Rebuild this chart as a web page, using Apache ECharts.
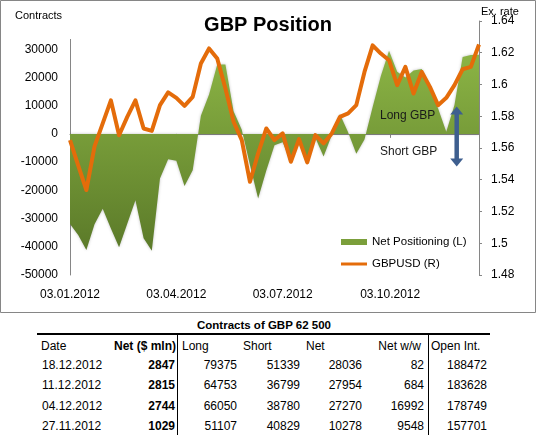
<!DOCTYPE html>
<html>
<head>
<meta charset="utf-8">
<script src="https://cdn.jsdelivr.net/npm/echarts@6/dist/echarts.min.js"></script>
<style>
body{margin:0;background:#fff;font-family:'Liberation Sans',Arial,sans-serif;}
#chart{position:absolute;left:0;top:0;width:536px;height:314px;}
.cell{position:absolute;white-space:nowrap;font-size:12px;line-height:14px;color:#000;}
.rule{position:absolute;background:#000;}
</style>
</head>
<body>
<div id="chart"></div>
<div id="tbl"></div>
<script>
// weekly COT dates (tuesdays)
var weekDates = ['2012-01-03','2012-01-10','2012-01-17','2012-01-24','2012-01-31','2012-02-07','2012-02-14','2012-02-21','2012-02-28',
  '2012-03-06','2012-03-13','2012-03-20','2012-03-27','2012-04-03','2012-04-10','2012-04-17','2012-04-24','2012-05-01','2012-05-08',
  '2012-05-15','2012-05-22','2012-05-29','2012-06-05','2012-06-12','2012-06-19','2012-06-26','2012-07-03','2012-07-10','2012-07-17',
  '2012-07-24','2012-07-31','2012-08-07','2012-08-14','2012-08-21','2012-08-28','2012-09-04','2012-09-11','2012-09-18','2012-09-25',
  '2012-10-02','2012-10-09','2012-10-16','2012-10-23','2012-10-30','2012-11-06','2012-11-13','2012-11-20','2012-11-27','2012-12-04',
  '2012-12-11','2012-12-18'];

var netPositions = [-31900, -35800, -41100, -32000, -26500, -33500, -40200, -31800, -23500, -37000, -41400,
  -15800, -9000, -9500, -18500, -12900, 6400, 14000, 24600, 24600, 8000,
  1500, -11000, -22900, -13000, -4000, -3000, -10000, -3000, -10000, -1500,
  -8000, -500, 7000, 600, -7000, -2000, 9500, 20500, 29500, 22000,
  20000, 22500, 23000, 17000, 9000, 730, 10278, 27270, 27954, 28036];

var gbpusd = [1.565, 1.549, 1.5335, 1.561, 1.5755, 1.590, 1.568, 1.5796, 1.590, 1.5723,
  1.5708, 1.587, 1.595, 1.5916, 1.5865, 1.5922, 1.6132, 1.6227, 1.6164, 1.5975,
  1.5765, 1.565, 1.5387, 1.5566, 1.5723, 1.565, 1.5692, 1.5513, 1.5656, 1.5509,
  1.5681, 1.5629, 1.5692, 1.5796, 1.5818, 1.587, 1.6079, 1.6247, 1.6195, 1.6153,
  1.5996, 1.6111, 1.5943, 1.6079, 1.5985, 1.587, 1.5916, 1.5996, 1.6096, 1.6111, 1.6252];

var xLabelDates = ['2012-01-03','2012-04-03','2012-07-03','2012-10-03'];

// table under the chart
var tblDates = ['18.12.2012','11.12.2012','04.12.2012','27.11.2012'];
var tblNetMln = [2847, 2815, 2744, 1029];
var tblLong = [79375, 64753, 66050, 51107];
var tblShort = [51339, 36799, 38780, 40829];
var tblNet = [28036, 27954, 27270, 10278];
var tblNetWw = [82, 684, 16992, 9548];
var tblOpenInt = [188472, 183628, 178749, 157701];

function ts(s){
    var p = s.split('-');
    return Date.UTC(+p[0], +p[1]-1, +p[2]);
}
function fmt_date(v){
    var d = new Date(v);
    var dd = ('0'+d.getUTCDate()).slice(-2), mm = ('0'+(d.getUTCMonth()+1)).slice(-2);
    return dd+'.'+mm+'.'+d.getUTCFullYear();
}

function draw_chart(){
    var chart = echarts.init(document.getElementById('chart'));
    var xMin = ts(weekDates[0]), xMax = ts(weekDates[weekDates.length-1]);
    var labelTs = xLabelDates.map(ts);

    var netData = [], rateData = [];
    for (var i = 0; i < weekDates.length; i++){
        netData.push([ts(weekDates[i]), netPositions[i]]);
        rateData.push([ts(weekDates[i]), gbpusd[i]]);
    }

    chart.setOption({
        animation: false,
        textStyle: {fontFamily: 'Liberation Sans'},
        grid: {left: 70, right: 57, top: 21, height: 254},
        legend: {
            orient: 'vertical', left: 336, top: 231,
            itemWidth: 26, itemHeight: 6, itemGap: 10,
            textStyle: {fontSize: 11.5, color: '#000'},
            data: [
                {name: 'Net Positioning (L)', icon: 'rect'},
                {name: 'GBPUSD (R)', icon: 'path://M0,0 L26,0 L26,3 L0,3 Z'}
            ]
        },
        xAxis: [{
            type: 'value', min: xMin, max: xMax, position: 'bottom',
            axisLine: {show: false}, axisTick: {show: false}, splitLine: {show: false},
            axisLabel: {customValues: labelTs, formatter: fmt_date, margin: 14, color: '#000', fontSize: 12}
        }, {
            type: 'value', min: xMin, max: xMax, position: 'bottom',
            axisLine: {onZero: true, onZeroAxisIndex: 0, lineStyle: {color: '#868686', width: 1}},
            axisTick: {customValues: labelTs, length: 4, lineStyle: {color: '#868686'}},
            axisLabel: {show: false}, splitLine: {show: false}
        }],
        yAxis: [{
            type: 'value', min: -50000, max: 40000, interval: 10000, position: 'left',
            axisLine: {show: true, lineStyle: {color: '#868686'}},
            axisTick: {show: false}, splitLine: {show: false},
            axisLabel: {margin: 12, color: '#000', fontSize: 12,
                formatter: function(v){ return v === 40000 ? '' : String(v); }}
        }, {
            type: 'value', min: 1.48, max: 1.64, interval: 0.02, position: 'right',
            axisLine: {show: true, lineStyle: {color: '#868686'}},
            axisTick: {show: true, length: 3, lineStyle: {color: '#868686'}},
            splitLine: {show: false},
            axisLabel: {margin: 12, color: '#000', fontSize: 12,
                formatter: function(v){ return String(+v.toFixed(2)); }}
        }],
        series: [{
            name: 'Net Positioning (L)', type: 'line', xAxisIndex: 0, yAxisIndex: 0,
            data: netData, symbol: 'none', z: 2,
            lineStyle: {width: 0, opacity: 0},
            itemStyle: {color: '#7b9f3b'},
            areaStyle: {
                opacity: 1,
                color: new echarts.graphic.LinearGradient(0, 0, 0, 1, [
                    {offset: 0, color: '#8cb545'}, {offset: 1, color: '#5b7a29'}
                ]),
                shadowColor: 'rgba(0,0,0,0.25)', shadowBlur: 3
            }
        }, {
            name: 'GBPUSD (R)', type: 'line', xAxisIndex: 0, yAxisIndex: 1,
            data: rateData, symbol: 'none', z: 3,
            lineStyle: {color: '#e46c0a', width: 4, join: 'round'},
            itemStyle: {color: '#e46c0a'}
        }],
        graphic: [
            {type: 'rect', silent: true, shape: {x: 0.5, y: 0.5, width: 535, height: 312},
                style: {fill: 'none', stroke: '#868686', lineWidth: 1}},
            {type: 'rect', silent: true, z: 100, shape: {x: 66, y: 18, width: 8, height: 21}, style: {fill: '#fff'}},
            {type: 'text', x: 268, y: 25.5, z: 100,
                style: {text: 'GBP Position', font: 'bold 20px Liberation Sans', fill: '#000', align: 'center', verticalAlign: 'middle'}},
            {type: 'text', x: 15, y: 16, z: 100,
                style: {text: 'Contracts', font: '11px Liberation Sans', fill: '#000', align: 'left', verticalAlign: 'middle'}},
            {type: 'text', x: 481, y: 12, z: 100,
                style: {text: 'Ex. rate', font: '11px Liberation Sans', fill: '#000', align: 'left', verticalAlign: 'middle'}},
            {type: 'text', x: 380, y: 115.5, z: 100,
                style: {text: 'Long GBP', font: '12px Liberation Sans', fill: '#1a1a1a', align: 'left', verticalAlign: 'middle'}},
            {type: 'text', x: 380, y: 152, z: 100,
                style: {text: 'Short GBP', font: '12px Liberation Sans', fill: '#1a1a1a', align: 'left', verticalAlign: 'middle'}},
            // double arrow long/short
            {type: 'line', z: 100, shape: {x1: 456.7, y1: 112, x2: 456.7, y2: 161},
                style: {stroke: '#3e5f8f', lineWidth: 4.5}},
            {type: 'polygon', z: 100, shape: {points: [[450.2, 114.5], [456.7, 106.5], [463.2, 114.5]]}, style: {fill: '#3e5f8f'}},
            {type: 'polygon', z: 100, shape: {points: [[450.2, 158.5], [456.7, 166.5], [463.2, 158.5]]}, style: {fill: '#3e5f8f'}}
        ]
    });
}

function add_cell(txt, x, cy, align, bold){
    var s = document.createElement('span');
    s.className = 'cell';
    s.textContent = txt;
    s.style.top = (cy - 7) + 'px';
    if (align === 'right') s.style.right = (536 - x) + 'px';
    else if (align === 'center') { s.style.left = (x - 100) + 'px'; s.style.width = '200px'; s.style.textAlign = 'center'; }
    else s.style.left = x + 'px';
    if (bold) s.style.fontWeight = 'bold';
    document.getElementById('tbl').appendChild(s);
    return s;
}
function add_rule(x, y, w, h){
    var d = document.createElement('div');
    d.className = 'rule';
    d.style.left = x + 'px'; d.style.top = y + 'px';
    d.style.width = w + 'px'; d.style.height = h + 'px';
    document.getElementById('tbl').appendChild(d);
}

function draw_table(){
    var t = add_cell('Contracts of GBP 62 500', 264, 325, 'center', true);
    t.style.fontSize = '11.5px';
    add_rule(37, 333, 453, 2);
    add_rule(177, 335, 1, 100);
    add_rule(428, 335, 1, 100);

    var hy = 345.7;
    add_cell('Date', 41, hy, 'left');
    add_cell('Net ($ mln)', 176, hy, 'right', true);
    add_cell('Long', 182, hy, 'left');
    add_cell('Short', 243, hy, 'left');
    add_cell('Net', 306, hy, 'left');
    add_cell('Net w/w', 421, hy, 'right');
    add_cell('Open Int.', 431, hy, 'left');

    var rowY = [365, 385.3, 405.7, 426];
    for (var i = 0; i < tblDates.length; i++){
        add_cell(tblDates[i], 42, rowY[i], 'left');
        add_cell(tblNetMln[i], 175, rowY[i], 'right', true);
        add_cell(tblLong[i], 237, rowY[i], 'right');
        add_cell(tblShort[i], 300, rowY[i], 'right');
        add_cell(tblNet[i], 362, rowY[i], 'right');
        add_cell(tblNetWw[i], 424, rowY[i], 'right');
        add_cell(tblOpenInt[i], 487, rowY[i], 'right');
    }
}

draw_table();
draw_chart();
</script>
</body>
</html>
